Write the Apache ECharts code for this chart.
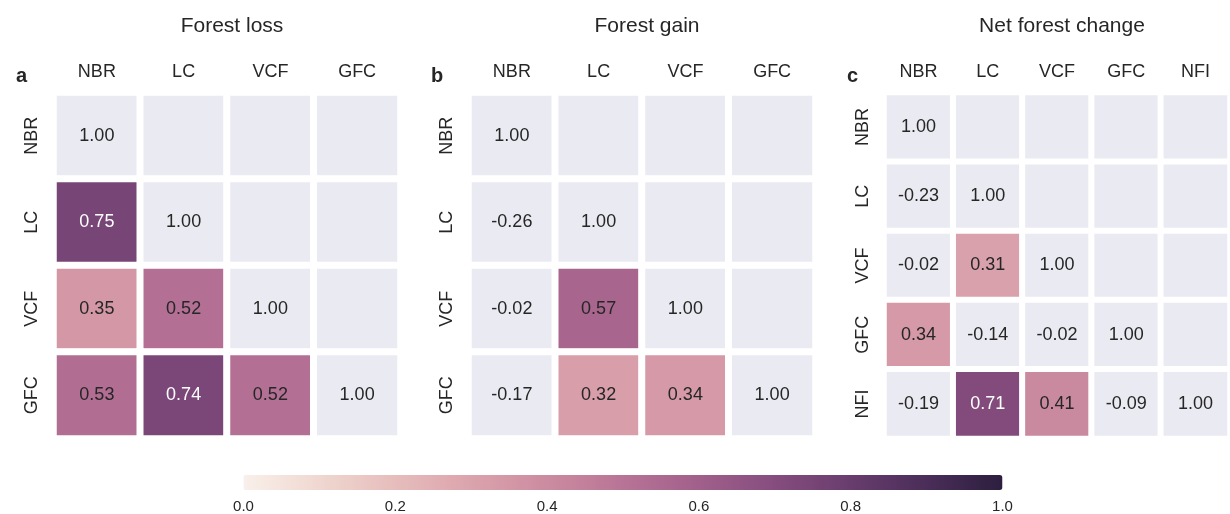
<!DOCTYPE html>
<html>
<head>
<meta charset="utf-8">
<script src="https://cdn.jsdelivr.net/npm/echarts@6/dist/echarts.min.js"></script>
<style>
  html, body { margin: 0; padding: 0; background: #fff; }
  #chart { width: 1230px; height: 514px; }
</style>
</head>
<body>
<div id="chart"></div>
<script>
// Lower-triangular correlation matrices (row i holds columns 0..i)
const lossLabels = ['NBR', 'LC', 'VCF', 'GFC'];
const lossRows = [
  [1.00],
  [0.75, 1.00],
  [0.35, 0.52, 1.00],
  [0.53, 0.74, 0.52, 1.00]
];

const gainLabels = ['NBR', 'LC', 'VCF', 'GFC'];
const gainRows = [
  [1.00],
  [-0.26, 1.00],
  [-0.02, 0.57, 1.00],
  [-0.17, 0.32, 0.34, 1.00]
];

const netLabels = ['NBR', 'LC', 'VCF', 'GFC', 'NFI'];
const netRows = [
  [1.00],
  [-0.23, 1.00],
  [-0.02, 0.31, 1.00],
  [0.34, -0.14, -0.02, 1.00],
  [-0.19, 0.71, 0.41, -0.09, 1.00]
];

const panelTitles = ['Forest loss', 'Forest gain', 'Net forest change'];
const panelLetters = ['a', 'b', 'c'];
const colorbarTicks = [0.0, 0.2, 0.4, 0.6, 0.8, 1.0];

const FONT = "'Liberation Sans', Arial, sans-serif";
const TEXT = '#262626';
const CELL_BG = '#EAEAF2';

// cubehelix colour ramp (start 0, rotation 0.4, hue 0.8), light 0.95 -> dark 0.15
function cubehelix(x) {
  const s = 0, r = 0.4, h = 0.8;
  const a = h * x * (1 - x) / 2;
  const phi = 2 * Math.PI * (s / 3 + r * x);
  const c = Math.cos(phi), sn = Math.sin(phi);
  const ch = [
    x + a * (-0.14861 * c + 1.78277 * sn),
    x + a * (-0.29227 * c - 0.90649 * sn),
    x + a * (1.97294 * c)
  ].map(v => Math.round(Math.max(0, Math.min(1, v)) * 255));
  return 'rgb(' + ch.join(',') + ')';
}
const rampColors = [];
for (let k = 0; k <= 40; k++) {
  const t = k / 40;
  rampColors.push(cubehelix(0.95 - 0.8 * t));
}

// Each cell: [col, row, shownValue, colourValue]; masked cells get colourValue -1
function buildCells(rows) {
  const n = rows.length;
  const out = [];
  for (let i = 0; i < n; i++) {
    for (let j = 0; j < n; j++) {
      if (j <= i) {
        const v = rows[i][j];
        const masked = (i === j) || v < 0;
        out.push({
          value: [j, i, v, masked ? -1 : v],
          label: { color: (!masked && v >= 0.65) ? '#ffffff' : TEXT }
        });
      } else {
        out.push({ value: [j, i, 0, -1], label: { show: false } });
      }
    }
  }
  return out;
}

const panels = [
  { labels: lossLabels, rows: lossRows, left: 53.5, width: 347, border: 7 },
  { labels: gainLabels, rows: gainRows, left: 468.5, width: 347, border: 7 },
  { labels: netLabels, rows: netRows, left: 884, width: 346, border: 6 }
];

const grids = [], xAxes = [], yAxes = [], series = [], titles = [];

panels.forEach((p, k) => {
  grids.push({ left: p.left, top: 92.5, width: p.width, height: 346 });
  xAxes.push({
    type: 'category', gridIndex: k, data: p.labels, position: 'top',
    axisLine: { show: false },
    axisTick: { show: true, alignWithLabel: true, length: 2, lineStyle: { color: '#dddddd' } },
    splitLine: { show: false },
    axisLabel: { color: TEXT, fontSize: 18, fontFamily: FONT, margin: 11 }
  });
  yAxes.push({
    type: 'category', gridIndex: k, data: p.labels, inverse: true,
    axisLine: { show: false },
    axisTick: { show: false },
    splitLine: { show: false },
    axisLabel: { color: TEXT, fontSize: 18, fontFamily: FONT, rotate: 90, margin: 12 }
  });
  series.push({
    type: 'heatmap', xAxisIndex: k, yAxisIndex: k,
    data: buildCells(p.rows),
    itemStyle: { borderColor: '#ffffff', borderWidth: p.border },
    label: {
      show: true, fontSize: 18, fontFamily: FONT,
      formatter: prm => prm.value[2].toFixed(2)
    },
    emphasis: { disabled: true }
  });
  titles.push({
    text: panelTitles[k], left: p.left + p.width / 2, top: 11, textAlign: 'center',
    textStyle: { color: TEXT, fontSize: 21, fontWeight: 'normal', fontFamily: FONT }
  });
});

titles.push(
  { text: panelLetters[0], left: 11, top: 61, textStyle: { color: TEXT, fontSize: 20, fontWeight: 'bold', fontFamily: FONT } },
  { text: panelLetters[1], left: 426, top: 61, textStyle: { color: TEXT, fontSize: 20, fontWeight: 'bold', fontFamily: FONT } },
  { text: panelLetters[2], left: 842, top: 61, textStyle: { color: TEXT, fontSize: 20, fontWeight: 'bold', fontFamily: FONT } }
);

// colour bar tick axis
grids.push({ left: 243.5, top: 490, width: 759, height: 1 });
xAxes.push({
  type: 'value', gridIndex: 3, min: colorbarTicks[0], max: colorbarTicks[colorbarTicks.length - 1],
  interval: 0.2,
  axisLine: { show: false }, axisTick: { show: false }, splitLine: { show: false },
  axisLabel: { color: TEXT, fontSize: 15, fontFamily: FONT, margin: 9,
               formatter: v => v.toFixed(1) }
});
yAxes.push({ type: 'value', gridIndex: 3, show: false });

const chart = echarts.init(document.getElementById('chart'), null, { renderer: 'canvas' });
chart.setOption({
  backgroundColor: '#ffffff',
  animation: false,
  title: titles,
  grid: grids,
  xAxis: xAxes,
  yAxis: yAxes,
  visualMap: {
    type: 'continuous',
    seriesIndex: [0, 1, 2],
    dimension: 3,
    min: 0, max: 1,
    // a range starting just above min lets masked cells (-1) fall out of range
    range: [0.0005, 1],
    orient: 'horizontal',
    left: 243.5, top: 475,
    itemWidth: 15, itemHeight: 759,
    padding: 0,
    calculable: false,
    hoverLink: false,
    text: null,
    showLabel: false,
    inRange: { color: rampColors },
    outOfRange: { color: CELL_BG }
  },
  series: series
});
</script>
</body>
</html>
